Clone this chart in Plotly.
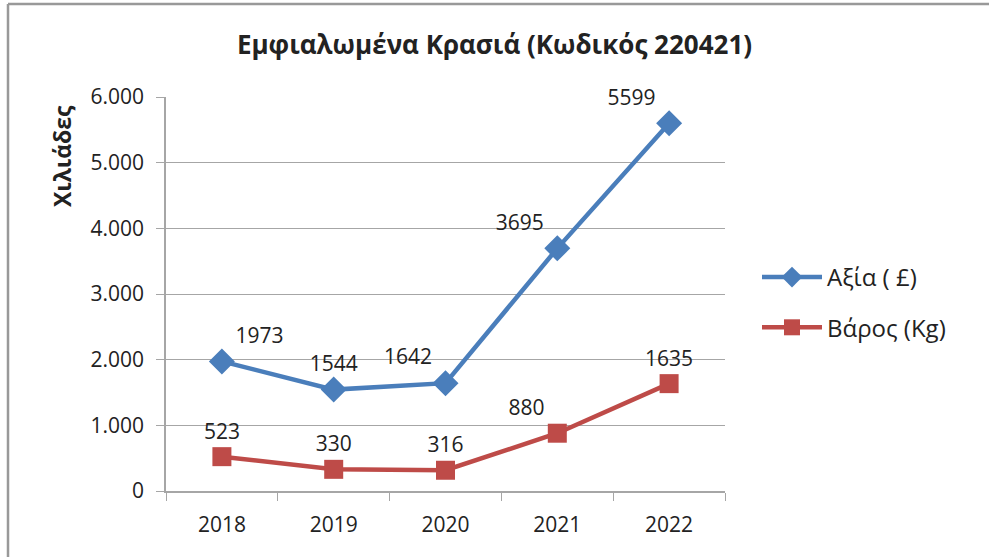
import plotly.graph_objects as go

years = ["2018", "2019", "2020", "2021", "2022"]
value_gbp = [1973, 1544, 1642, 3695, 5599]
weight_kg = [523, 330, 316, 880, 1635]
y_ticks = [0, 1000, 2000, 3000, 4000, 5000, 6000]

W, H = 989, 557
L, R, T, B = 166, 264, 97, 66
pw, ph = W - L - R, H - T - B

def px(x):
    return (x - L) / pw

def py(y):
    return 1 - (y - T) / ph

FONT = "Open Sans"
BLUE = "#4a7ebb"
RED = "#be4b48"
GRID = "#a6a6a6"

fig = go.Figure()
fig.add_trace(go.Scatter(
    x=years, y=value_gbp, name="Αξία ( £)", legendgroup="a",
    mode="lines+markers+text", text=[str(v) for v in value_gbp],
    textposition=["top right", "top center", "top left", "top left", "top left"],
    textfont=dict(size=21, color="#222222"),
    line=dict(color=BLUE, width=4.5),
    marker=dict(symbol="diamond", size=20, color=BLUE),
    cliponaxis=False,
))
fig.add_trace(go.Scatter(
    x=years, y=weight_kg, name="Βάρος (Kg)", legendgroup="b",
    mode="lines+markers+text", text=[str(v) for v in weight_kg],
    textposition=["top center", "top center", "top center", "top left", "top center"],
    textfont=dict(size=21, color="#222222"),
    line=dict(color=RED, width=4.5),
    marker=dict(symbol="square", size=19, color=RED),
    cliponaxis=False,
))

fig.update_layout(
    width=W, height=H,
    margin=dict(l=L, r=R, t=T, b=B),
    paper_bgcolor="white", plot_bgcolor="white",
    font=dict(family=FONT, size=21, color="#222222"),
    separators=",.",
    title=dict(text="<b>Εμφιαλωμένα Κρασιά (Κωδικός 220421)</b>",
               x=0.5, xanchor="center", y=1 - 45 / H, yanchor="middle",
               font=dict(size=26, family=FONT)),
    xaxis=dict(type="category", tickson="boundaries", ticks="outside", ticklen=8,
               tickcolor=GRID, showgrid=False, showline=True, linecolor=GRID,
               linewidth=1.5, tickfont=dict(size=21), range=[-0.5, 4.5],
               ticklabelstandoff=14),
    yaxis=dict(range=[0, 6000], tickvals=y_ticks, tickformat=",d", ticks="outside",
               ticklen=8, tickcolor=GRID, showgrid=True, gridcolor=GRID, gridwidth=1,
               showline=True, linecolor=GRID, linewidth=1.5, zeroline=False,
               tickfont=dict(size=21), ticklabelstandoff=8),
    legend=dict(x=px(757), y=py(255), xanchor="left", yanchor="top",
                font=dict(size=24), tracegroupgap=16, itemwidth=60,
                bgcolor="rgba(0,0,0,0)"),
    showlegend=True,
)

fig.add_annotation(text="<b>Χιλιάδες</b>", textangle=-90, xref="paper", yref="paper",
                   x=px(62), y=py(103), xanchor="center", yanchor="top",
                   showarrow=False, font=dict(size=23, family=FONT))

# outer frame
fig.add_shape(type="line", xref="paper", yref="paper", x0=px(8), x1=px(989),
              y0=py(4), y1=py(4), line=dict(color="#999999", width=2.5))
fig.add_shape(type="line", xref="paper", yref="paper", x0=px(8), x1=px(8),
              y0=py(4), y1=py(557), line=dict(color="#999999", width=2.5))

fig.write_html("out.html", config={"displayModeBar": False},
               post_script="document.body.style.margin='0';")
